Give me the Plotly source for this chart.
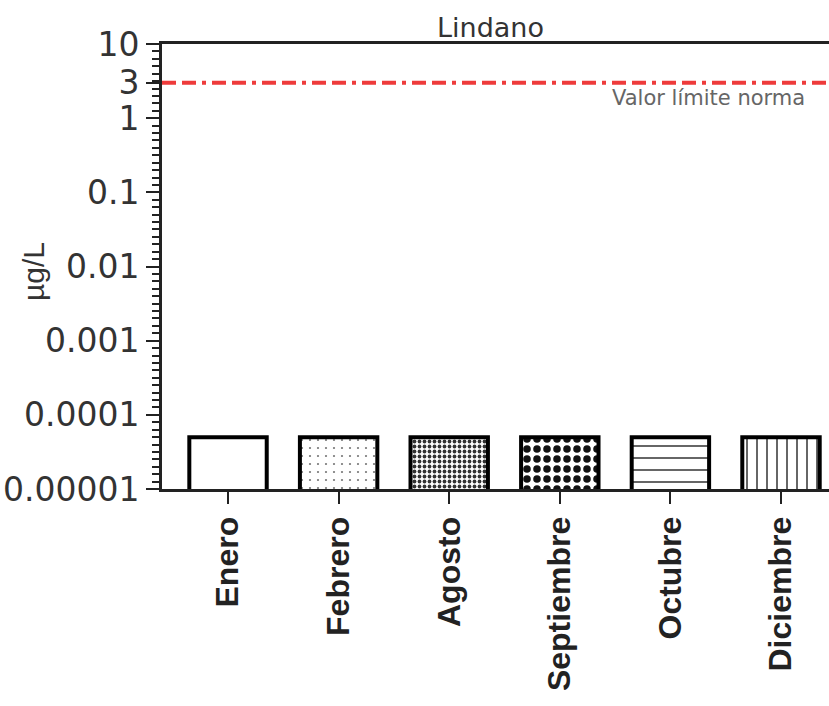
import plotly.graph_objects as go

months = ["Enero", "Febrero", "Agosto", "Septiembre", "Octubre", "Diciembre"]
values = [5e-5, 5e-5, 5e-5, 5e-5, 5e-5, 5e-5]
limit_value = 3
limit_label = "Valor límite norma"
y_tickvals = [1e-5, 1e-4, 1e-3, 1e-2, 1e-1, 1, 3, 10]
y_ticktext = ["0.00001", "0.0001", "0.001", "0.01", "0.1", "1", "3", "10"]

patterns = [
    dict(shape="", fgcolor="black", bgcolor="white"),
    dict(shape=".", size=8, solidity=0.06, fgcolor="#777777", bgcolor="white"),
    dict(shape=".", size=5, solidity=0.45, fgcolor="#333333", bgcolor="white"),
    dict(shape=".", size=10, solidity=0.45, fgcolor="#111111", bgcolor="white"),
    dict(shape="-", size=12, solidity=0.15, fgcolor="#555555", bgcolor="white"),
    dict(shape="|", size=10, solidity=0.2, fgcolor="#666666", bgcolor="white"),
]

fig = go.Figure()
for m, v, p in zip(months, values, patterns):
    fig.add_trace(go.Bar(
        x=[m], y=[v], width=0.7,
        marker=dict(color="white", line=dict(color="black", width=4),
                    pattern=dict(fillmode="replace", **p)),
        showlegend=False,
    ))

fig.add_shape(type="line", xref="paper", x0=0, x1=1, yref="y",
              y0=limit_value, y1=limit_value,
              line=dict(color="#ee3b3b", width=4, dash="14px,6px,14px,6px,4px,6px"))

minor_vals = [10 ** (e + k / 10) for e in range(-5, 1) for k in range(1, 10)]

fig.update_layout(
    width=829, height=706,
    margin=dict(l=162, r=0, t=44, b=217),
    plot_bgcolor="white", paper_bgcolor="white",
    barmode="overlay",
    xaxis=dict(
        categoryorder="array", categoryarray=months,
        range=[-0.597, 5.434], automargin=False,
        showline=True, linecolor="#222222", linewidth=3, mirror=True,
        ticks="outside", ticklen=12, tickwidth=2, tickcolor="#222222",
        tickangle=-90,
        tickfont=dict(family="Liberation Sans", size=32, color="#222222", weight="bold"),
        showgrid=False, zeroline=False,
    ),
    yaxis=dict(
        type="log", range=[-5, 1], automargin=False,
        tickmode="array", tickvals=y_tickvals, ticktext=y_ticktext,
        showline=True, linecolor="#222222", linewidth=3,
        ticks="outside", ticklen=13, tickwidth=2, tickcolor="#222222",
        ticklabelstandoff=0,
        tickfont=dict(family="DejaVu Sans", size=33, color="#333333"),
        minor=dict(ticks="outside", ticklen=7, tickwidth=2, tickcolor="#222222",
                   tickmode="array", tickvals=minor_vals, showgrid=False),
        showgrid=False, zeroline=False,
    ),
    annotations=[
        dict(text="Lindano", xref="paper", yref="paper", x=0.493, y=1.038,
             xanchor="center", yanchor="middle", showarrow=False,
             font=dict(family="DejaVu Sans", size=27, color="#333333")),
        dict(text="µg/L", xref="paper", yref="paper", x=-0.1934, y=0.4876,
             xanchor="center", yanchor="middle", textangle=-90, showarrow=False,
             font=dict(family="Liberation Sans", size=30, color="#333333")),
        dict(text=limit_label, xref="paper", yref="paper", x=0.819, y=0.879,
             xanchor="center", yanchor="middle", showarrow=False,
             font=dict(family="DejaVu Sans", size=21, color="#666666")),
    ],
)

fig.write_html("out.html", config={"displayModeBar": False},
               post_script="document.body.style.margin='0px';")
